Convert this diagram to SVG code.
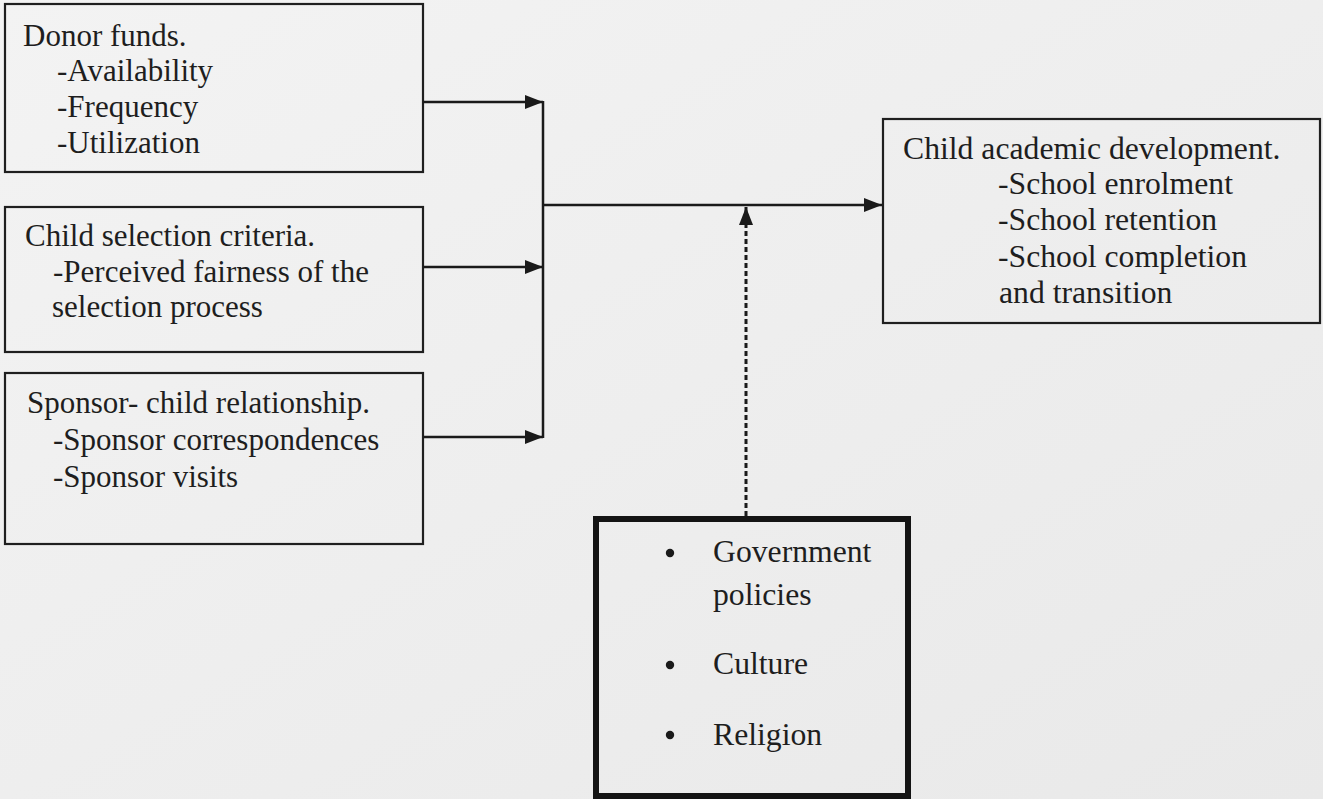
<svg xmlns="http://www.w3.org/2000/svg" width="1323" height="799" viewBox="0 0 1323 799">
  <defs>
    <marker id="ah" markerUnits="userSpaceOnUse" markerWidth="18" markerHeight="14" refX="18" refY="7" orient="auto">
      <path d="M0,0 L18,7 L0,14 z" fill="#1a1a1a"/>
    </marker>
    <linearGradient id="bg" x1="0" y1="0" x2="1" y2="1">
      <stop offset="0" stop-color="#f3f3f3"/>
      <stop offset="1" stop-color="#e9e9e9"/>
    </linearGradient>
  </defs>
  <style>
    .box { fill: none; stroke: #1f1f1f; stroke-width: 2.2; }
    .thick { fill: none; stroke: #141414; stroke-width: 6; }
    .t { font-family: "Liberation Serif", "Times New Roman", serif; font-size: 31px; fill: #1e1e1e; }
    .t2 { font-family: "Liberation Serif", "Times New Roman", serif; font-size: 31.7px; fill: #1e1e1e; }
    .ln { fill: none; stroke: #1a1a1a; stroke-width: 2.5; }
    .dash { fill: none; stroke: #1a1a1a; stroke-width: 3; stroke-dasharray: 5 3; }
  </style>
  <rect x="0" y="0" width="1323" height="799" fill="url(#bg)"/>

  <g id="donor-funds">
    <rect class="box" x="5" y="4" width="418" height="168"/>
    <text class="t" x="23" y="46">Donor funds.</text>
    <text class="t" x="57" y="81">-Availability</text>
    <text class="t" x="57" y="117">-Frequency</text>
    <text class="t" x="57" y="153">-Utilization</text>
  </g>

  <g id="child-selection">
    <rect class="box" x="5" y="207" width="418" height="145"/>
    <text class="t" x="25" y="246">Child selection criteria.</text>
    <text class="t" x="53" y="282">-Perceived fairness of the</text>
    <text class="t" x="52" y="317">selection process</text>
  </g>

  <g id="sponsor-child">
    <rect class="box" x="5" y="373" width="418" height="171"/>
    <text class="t" x="27" y="413">Sponsor- child relationship.</text>
    <text class="t" x="53" y="450">-Sponsor correspondences</text>
    <text class="t" x="53" y="487">-Sponsor visits</text>
  </g>

  <g id="academic-development">
    <rect class="box" x="883" y="119" width="437" height="204"/>
    <text class="t2" x="903" y="159">Child academic development.</text>
    <text class="t2" x="998" y="194">-School enrolment</text>
    <text class="t2" x="998" y="230">-School retention</text>
    <text class="t2" x="998" y="267">-School completion</text>
    <text class="t2" x="999" y="303">and transition</text>
  </g>

  <g id="moderators">
    <rect class="thick" x="596" y="519" width="312" height="277"/>
    <circle cx="670" cy="553" r="4.2" fill="#1a1a1a"/>
    <circle cx="670" cy="665" r="4.2" fill="#1a1a1a"/>
    <circle cx="670" cy="735" r="4.2" fill="#1a1a1a"/>
    <text class="t2" x="713" y="562">Government</text>
    <text class="t2" x="713" y="605">policies</text>
    <text class="t2" x="713" y="674">Culture</text>
    <text class="t2" x="713" y="745">Religion</text>
  </g>

  <g id="connectors">
    <path class="ln" d="M423,102 H543" marker-end="url(#ah)"/>
    <path class="ln" d="M423,267 H543" marker-end="url(#ah)"/>
    <path class="ln" d="M423,437 H543" marker-end="url(#ah)"/>
    <path class="ln" d="M543,101 V438"/>
    <path class="ln" d="M543,205 H882" marker-end="url(#ah)"/>
    <path class="dash" d="M746,516 V207" marker-end="url(#ah)"/>
  </g>
</svg>
